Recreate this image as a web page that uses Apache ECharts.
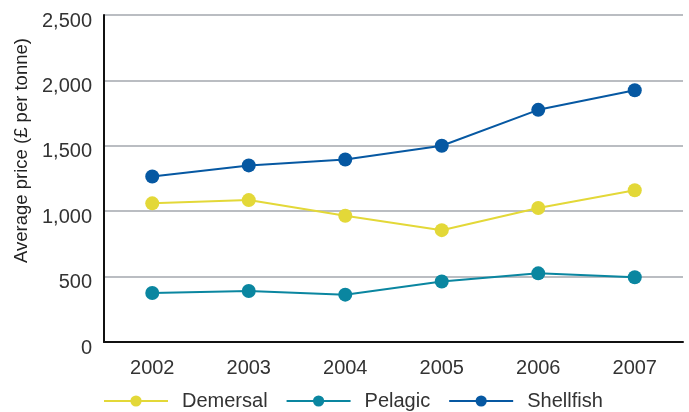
<!DOCTYPE html>
<html>
<head>
<meta charset="utf-8">
<script src="https://cdn.jsdelivr.net/npm/echarts@6/dist/echarts.min.js"></script>
<style>
  html, body { margin: 0; padding: 0; background: #fff; }
  #chart { width: 689px; height: 412px; }
</style>
</head>
<body>
<div id="chart"></div>
<script>
const years = ['2002', '2003', '2004', '2005', '2006', '2007'];
const demersal = [1060, 1085, 965, 855, 1025, 1160];
const pelagic = [375, 390, 362, 462, 525, 495];
const shellfish = [1265, 1350, 1395, 1500, 1775, 1925];

const font = 'Liberation Sans';

function lineSeries(name, data, color) {
  return {
    name: name,
    type: 'line',
    data: data,
    symbol: 'circle',
    symbolSize: 14,
    lineStyle: { color: color, width: 2 },
    itemStyle: { color: color },
    emphasis: { disabled: true }
  };
}

const chart = echarts.init(document.getElementById('chart'));
chart.setOption({
  animation: false,
  textStyle: { fontFamily: font },
  grid: { left: 104, right: 6, top: 15, bottom: 70 },
  legend: {
    top: 386,
    left: 98,
    itemWidth: 64,
    itemHeight: 14,
    itemGap: 18,
    textStyle: { fontSize: 20, color: '#333', fontFamily: font, padding: [0, 0, 0, 9] },
    data: ['Demersal', 'Pelagic', 'Shellfish']
  },
  xAxis: {
    type: 'category',
    data: years,
    boundaryGap: true,
    axisLine: { lineStyle: { color: '#111', width: 2 } },
    axisTick: { inside: true, length: 8, lineStyle: { color: '#111' } },
    axisLabel: { fontSize: 20, color: '#333', margin: 16 }
  },
  yAxis: {
    type: 'value',
    min: 0,
    max: 2500,
    interval: 500,
    name: 'Average price (£ per tonne)',
    nameLocation: 'middle',
    nameGap: 72,
    nameTextStyle: { fontSize: 18.5, color: '#222', padding: [0, 0, 0, 56] },
    axisLine: { show: true, lineStyle: { color: '#111', width: 2 } },
    axisTick: { show: false },
    axisLabel: {
      fontSize: 20,
      color: '#333',
      margin: 12,
      verticalAlign: 'top',
      lineHeight: 12,
      formatter: v => v.toLocaleString('en-GB')
    },
    splitLine: { lineStyle: { color: '#a3a7ae', width: 1.5 } }
  },
  series: [
    lineSeries('Demersal', demersal, '#e3d838'),
    lineSeries('Pelagic', pelagic, '#0a86a0'),
    lineSeries('Shellfish', shellfish, '#0658a2')
  ]
});
</script>
</body>
</html>
